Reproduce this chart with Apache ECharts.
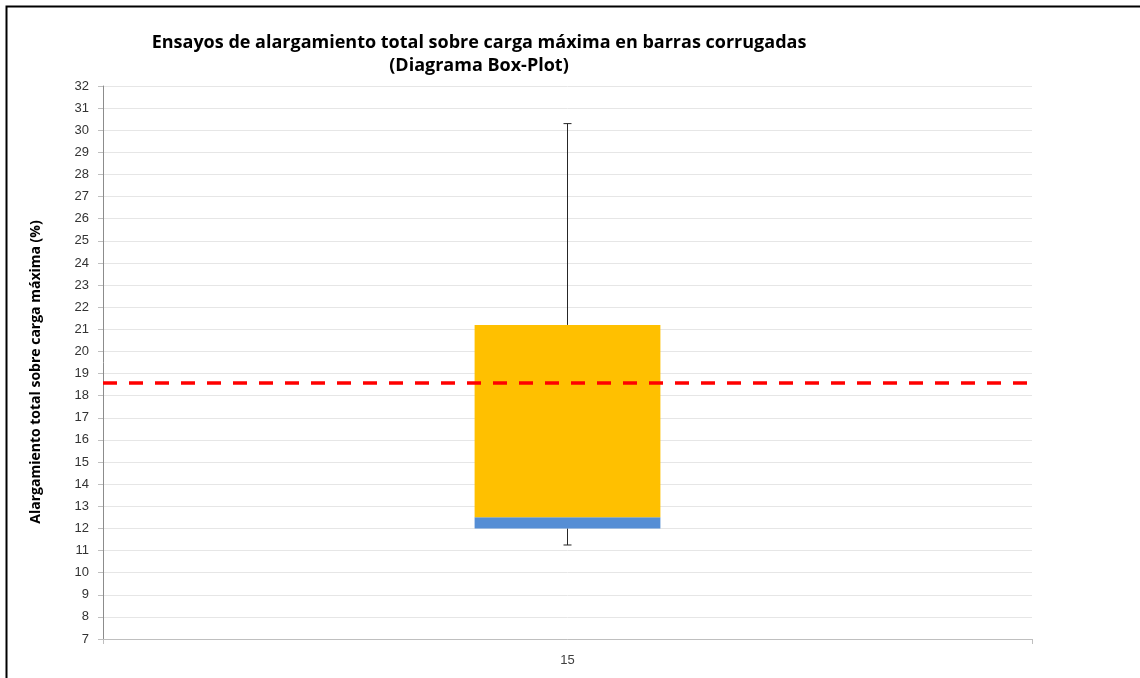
<!DOCTYPE html>
<html>
<head>
<meta charset="utf-8">
<script src="https://cdn.jsdelivr.net/npm/echarts@6/dist/echarts.min.js"></script>
<style>
  html, body { margin: 0; padding: 0; background: #fff; }
  #chart { width: 1140px; height: 678px; }
</style>
</head>
<body>
<div id="chart"></div>
<script>
// datos del box-plot
var categorias = ['15'];
var minimo = [11.25];
var cuartil1 = [12.0];
var mediana = [12.5];
var cuartil3 = [21.2];
var maximo = [30.3];
var referencia = 18.6;
var yMin = 7, yMax = 32;

// partes apiladas de la caja
var base = [], parteBaja = [], parteAlta = [];
for (var i = 0; i < categorias.length; i++) {
    base.push(cuartil1[i]);
    parteBaja.push(+(mediana[i] - cuartil1[i]).toFixed(2));
    parteAlta.push(+(cuartil3[i] - mediana[i]).toFixed(2));
}
var bigotes = [];
for (var j = 0; j < categorias.length; j++) {
    bigotes.push([j, minimo[j], cuartil1[j], cuartil3[j], maximo[j]]);
}

var chart = echarts.init(document.getElementById('chart'));

var option = {
    backgroundColor: '#fff',
    animation: false,
    title: {
        text: 'Ensayos de alargamiento total sobre carga máxima en barras corrugadas\n(Diagrama Box-Plot)',
        left: 474,
        top: 26,
        textAlign: 'center',
        textStyle: {
            fontFamily: 'Open Sans',
            fontSize: 18,
            fontWeight: 'bold',
            color: '#000',
            lineHeight: 23,
            align: 'center'
        }
    },
    graphic: [{
        type: 'rect',
        shape: { x: 6.5, y: 6.5, width: 1200, height: 700 },
        style: { fill: 'none', stroke: '#000', lineWidth: 2 },
        silent: true
    }, {
        type: 'text',
        x: 36,
        y: 372,
        rotation: Math.PI / 2,
        style: {
            text: 'Alargamiento total sobre carga máxima (%)',
            fontFamily: 'Open Sans',
            fontSize: 14,
            fontWeight: 'bold',
            fill: '#000',
            align: 'center',
            verticalAlign: 'middle'
        },
        silent: true
    }],
    grid: { left: 103, right: 108, top: 86, bottom: 39 },
    xAxis: {
        type: 'category',
        data: categorias,
        axisLine: { lineStyle: { color: '#bfbfbf' } },
        axisTick: { show: true, length: 5, lineStyle: { color: '#bfbfbf' } },
        axisLabel: { color: '#404040', fontSize: 13, fontFamily: 'Liberation Sans', margin: 15 }
    },
    yAxis: {
        type: 'value',
        min: yMin,
        max: yMax,
        interval: 1,
        axisLine: { show: true, lineStyle: { color: '#8c8c8c' } },
        axisTick: { show: true, length: 5, lineStyle: { color: '#bfbfbf' } },
        axisLabel: { color: '#333', fontSize: 13, fontFamily: 'Liberation Sans', margin: 14 },
        splitLine: { lineStyle: { color: '#e6e6e6' } }
    },
    series: [{
        name: 'base',
        type: 'bar',
        stack: 'caja',
        barWidth: '20%',
        itemStyle: { color: 'transparent' },
        data: base,
        silent: true
    }, {
        name: 'Q1-mediana',
        type: 'bar',
        stack: 'caja',
        itemStyle: { color: '#558ed5' },
        data: parteBaja
    }, {
        name: 'mediana-Q3',
        type: 'bar',
        stack: 'caja',
        itemStyle: { color: '#ffc000' },
        data: parteAlta,
        markLine: {
            silent: true,
            symbol: 'none',
            label: { show: false },
            lineStyle: { color: '#ff0000', width: 3.5, type: [14, 12] },
            data: [{ yAxis: referencia }]
        }
    }, {
        name: 'bigotes',
        type: 'custom',
        z: 1,
        data: bigotes,
        renderItem: function(params, api) {
            var x = api.value(0);
            var pMin = api.coord([x, api.value(1)]);
            var pQ1 = api.coord([x, api.value(2)]);
            var pQ3 = api.coord([x, api.value(3)]);
            var pMax = api.coord([x, api.value(4)]);
            var c = 4;
            var st = { stroke: '#262626', lineWidth: 1 };
            return {
                type: 'group',
                children: [
                    { type: 'line', shape: { x1: pMin[0], y1: pMin[1], x2: pQ1[0], y2: pQ1[1] }, style: st },
                    { type: 'line', shape: { x1: pMin[0] - c, y1: pMin[1], x2: pMin[0] + c, y2: pMin[1] }, style: st },
                    { type: 'line', shape: { x1: pQ3[0], y1: pQ3[1], x2: pMax[0], y2: pMax[1] }, style: st },
                    { type: 'line', shape: { x1: pMax[0] - c, y1: pMax[1], x2: pMax[0] + c, y2: pMax[1] }, style: st }
                ]
            };
        }
    }]
};

chart.setOption(option);
</script>
</body>
</html>
